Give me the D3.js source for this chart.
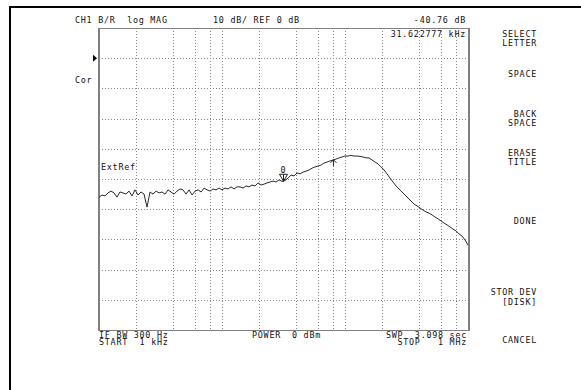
<!DOCTYPE html>
<html>
<head>
<meta charset="utf-8">
<script src="https://cdn.jsdelivr.net/npm/d3@7"></script>
<style>
  body { margin: 0; background: #fff; }
  svg text { font-family: "DejaVu Sans Mono", monospace; font-size: 8.4px; letter-spacing: 0.75px; fill: #111; white-space: pre; }
</style>
</head>
<body>
<svg width="581" height="390"></svg>
<script>
// B/R log MAG trace, 1 kHz .. 1 MHz
var freqKHz = [
  1.000, 1.058, 1.119, 1.184, 1.252, 1.324, 1.401, 1.482, 1.567, 1.658, 1.754, 1.855, 1.962, 2.076,
  2.196, 2.323, 2.457, 2.599, 2.750, 2.909, 3.077, 3.255, 3.443, 3.642, 3.853, 4.076, 4.311, 4.561,
  4.824, 5.103, 5.399, 5.711, 6.041, 6.390, 6.760, 7.151, 7.565, 8.002, 8.465, 8.955, 9.473,
  10.00, 10.58, 11.19, 11.84, 12.52, 13.24, 14.01, 14.82, 15.68, 16.58, 17.54, 18.55, 19.63, 20.76,
  21.96, 23.23, 24.58, 26.00, 27.50, 29.09, 30.77, 32.55, 34.43, 36.42, 38.53, 40.76, 43.11, 45.61,
  48.24, 51.03, 53.99, 57.11, 60.41, 63.90, 67.60, 71.51, 75.65, 80.02, 84.65, 89.55, 94.73,
  100.0, 105.8, 111.9, 118.4, 125.2, 132.4, 140.1, 148.2, 156.8, 165.8, 175.4, 185.5, 196.3, 207.6,
  219.6, 232.3, 245.8, 260.0, 275.0, 290.9, 307.7, 325.5, 344.3, 364.2, 385.3, 407.6, 431.1, 456.1,
  482.4, 510.3, 539.9, 571.1, 604.1, 639.0, 676.0, 715.1, 756.5, 800.2, 846.5, 895.5, 947.3, 1000
];
var traceDb = [
  -46.0, -45.3, -45.6, -44.6, -44.0, -44.6, -46.0, -44.3, -44.6, -45.0, -44.0, -45.6, -43.6, -45.3,
  -44.3, -45.0, -49.3, -44.3, -45.0, -44.0, -44.6, -44.3, -45.0, -43.6, -44.3, -45.0, -44.0, -43.3,
  -43.6, -45.0, -43.6, -45.3, -44.0, -43.6, -44.3, -43.0, -43.6, -44.0, -43.3, -43.6, -43.0,
  -43.6, -43.0, -43.3, -42.6, -43.3, -42.6, -42.6, -43.0, -42.3, -42.6, -42.0, -42.3, -41.3, -42.0,
  -41.7, -41.3, -41.0, -40.7, -41.0, -40.3, -40.8, -40.5, -39.7, -38.7, -39.0, -38.0, -38.3, -37.7,
  -37.4, -37.0, -36.4, -36.0, -35.7, -35.4, -34.7, -34.4, -34.0, -33.7, -33.4, -33.0, -32.7,
  -32.4, -32.4, -32.2, -32.4, -32.4, -32.5, -32.7, -33.0, -33.0, -33.7, -34.4, -35.0, -36.0, -37.0,
  -38.3, -39.7, -41.0, -42.3, -43.3, -44.3, -45.3, -46.3, -47.3, -48.3, -48.9, -49.6, -50.3, -50.9,
  -51.3, -51.9, -52.6, -53.2, -53.9, -54.6, -55.2, -55.9, -56.6, -57.2, -58.2, -58.9, -60.2, -61.9
];

var gridFreqs = [2, 4, 6, 8, 10, 20, 40, 60, 80, 100, 200, 400, 600, 800];
var gridDb = [-80, -70, -60, -50, -40, -30, -20, -10, 0];
var refLevel = 0;
var markerFreqs = [31.622777, 80.6];
var markerValue = -40.76;

var menuLabels = [
  ["SELECT", 37], ["LETTER", 45.7], ["SPACE", 76.7], ["BACK", 117.3], ["SPACE", 125.7],
  ["ERASE", 156], ["TITLE", 165.3], ["DONE", 224.3], ["STOR DEV", 295], ["[DISK]", 304.5], ["CANCEL", 343.3]
];

var svg = d3.select("svg");

var plotL = 99, plotR = 468, plotT = 28, plotB = 330;

var x = d3.scaleLog().domain([1, 1000]).range([plotL, plotR]);
var y = d3.scaleLinear().domain([-90, 10]).range([plotB, plotT]);

// outer frame (top and left)
svg.append("line").attr("x1", 10).attr("x2", 581).attr("y1", 7).attr("y2", 7)
  .attr("stroke", "#000").attr("stroke-width", 2);
svg.append("line").attr("x1", 10).attr("x2", 10).attr("y1", 6).attr("y2", 390)
  .attr("stroke", "#000").attr("stroke-width", 2);

// grid
svg.selectAll(".vgrid").data(gridFreqs).enter().append("line")
  .attr("x1", function (d) { return Math.round(x(d)) + 0.5; })
  .attr("x2", function (d) { return Math.round(x(d)) + 0.5; })
  .attr("y1", plotT).attr("y2", plotB)
  .attr("stroke", "#888").attr("stroke-dasharray", "1,2");
svg.selectAll(".hgrid").data(gridDb).enter().append("line")
  .attr("x1", plotL).attr("x2", plotR)
  .attr("y1", function (d) { return Math.round(y(d)) + 0.5; })
  .attr("y2", function (d) { return Math.round(y(d)) + 0.5; })
  .attr("stroke", "#888").attr("stroke-dasharray", "1,2");

// plot border
svg.append("rect").attr("x", plotL + 0.5).attr("y", plotT + 0.5)
  .attr("width", plotR - plotL).attr("height", plotB - plotT)
  .attr("fill", "none").attr("stroke", "#808080");
svg.append("line").attr("x1", plotL).attr("x2", plotL).attr("y1", plotT).attr("y2", plotB + 1)
  .attr("stroke", "#808080").attr("stroke-width", 2);
svg.append("line").attr("x1", plotR + 1).attr("x2", plotR + 1).attr("y1", plotT).attr("y2", plotB + 1)
  .attr("stroke", "#808080").attr("stroke-width", 2);

// trace
var line = d3.line()
  .x(function (d, i) { return x(freqKHz[i]); })
  .y(function (d) { return y(d); });
svg.append("path").datum(traceDb)
  .attr("d", line)
  .attr("fill", "none").attr("stroke", "#2a2a2a").attr("stroke-width", 1);

// reference position marker
var ry = y(refLevel);
svg.append("path")
  .attr("d", "M93," + (ry - 3.5) + "L97," + ry + "L93," + (ry + 3.5) + "Z")
  .attr("fill", "#000");

// markers
var bis = d3.bisector(function (d) { return d; }).left;
function dbAt(f) {
  var i = bis(freqKHz, f);
  if (i <= 0) return traceDb[0];
  var t = (Math.log(f) - Math.log(freqKHz[i - 1])) / (Math.log(freqKHz[i]) - Math.log(freqKHz[i - 1]));
  return traceDb[i - 1] + t * (traceDb[i] - traceDb[i - 1]);
}
var m0x = x(markerFreqs[0]), m0y = y(markerValue);
svg.append("path")
  .attr("d", "M" + (m0x - 4) + "," + (m0y - 7) + "L" + (m0x + 4) + "," + (m0y - 7) + "L" + m0x + "," + m0y + "Z")
  .attr("fill", "none").attr("stroke", "#222").attr("stroke-width", 1);
svg.append("line").attr("x1", m0x).attr("x2", m0x).attr("y1", m0y - 7).attr("y2", m0y)
  .attr("stroke", "#222");
svg.append("text").attr("x", m0x - 3).attr("y", m0y - 8.5).text("0");

var m1x = x(markerFreqs[1]), m1y = y(dbAt(markerFreqs[1]));
svg.append("path")
  .attr("d", "M" + m1x + "," + (m1y + 6) + "L" + m1x + "," + m1y +
    "M" + (m1x - 3) + "," + (m1y + 3) + "L" + m1x + "," + m1y + "L" + (m1x + 3) + "," + (m1y + 3))
  .attr("fill", "none").attr("stroke", "#222");

// header / footer text
svg.append("text").attr("x", 75).attr("y", 23.3).text("CH1 B/R  log MAG");
svg.append("text").attr("x", 213).attr("y", 23.3).text("10 dB/ REF 0 dB");
svg.append("text").attr("x", 466).attr("y", 23.3).attr("text-anchor", "end").text("-40.76 dB");
svg.append("text").attr("x", 466).attr("y", 37.3).attr("text-anchor", "end").text("31.622777 kHz");
svg.append("text").attr("x", 75).attr("y", 82.5).text("Cor");
svg.append("text").attr("x", 101).attr("y", 170).text("ExtRef");

svg.append("text").attr("x", 99).attr("y", 338).text("IF BW 300 Hz");
svg.append("text").attr("x", 99).attr("y", 345).text("START  1 kHz");
svg.append("text").attr("x", 252).attr("y", 338).text("POWER");
svg.append("text").attr("x", 321).attr("y", 338).attr("text-anchor", "end").text("0 dBm");
svg.append("text").attr("x", 467).attr("y", 338).attr("text-anchor", "end").text("SWP  3.098 sec");
svg.append("text").attr("x", 467).attr("y", 344.7).attr("text-anchor", "end").text("STOP   1 MHz");

// softkey menu
svg.selectAll(".menu").data(menuLabels).enter().append("text")
  .attr("x", 537)
  .attr("y", function (d) { return d[1]; })
  .attr("text-anchor", "end")
  .text(function (d) { return d[0]; });
</script>
</body>
</html>
